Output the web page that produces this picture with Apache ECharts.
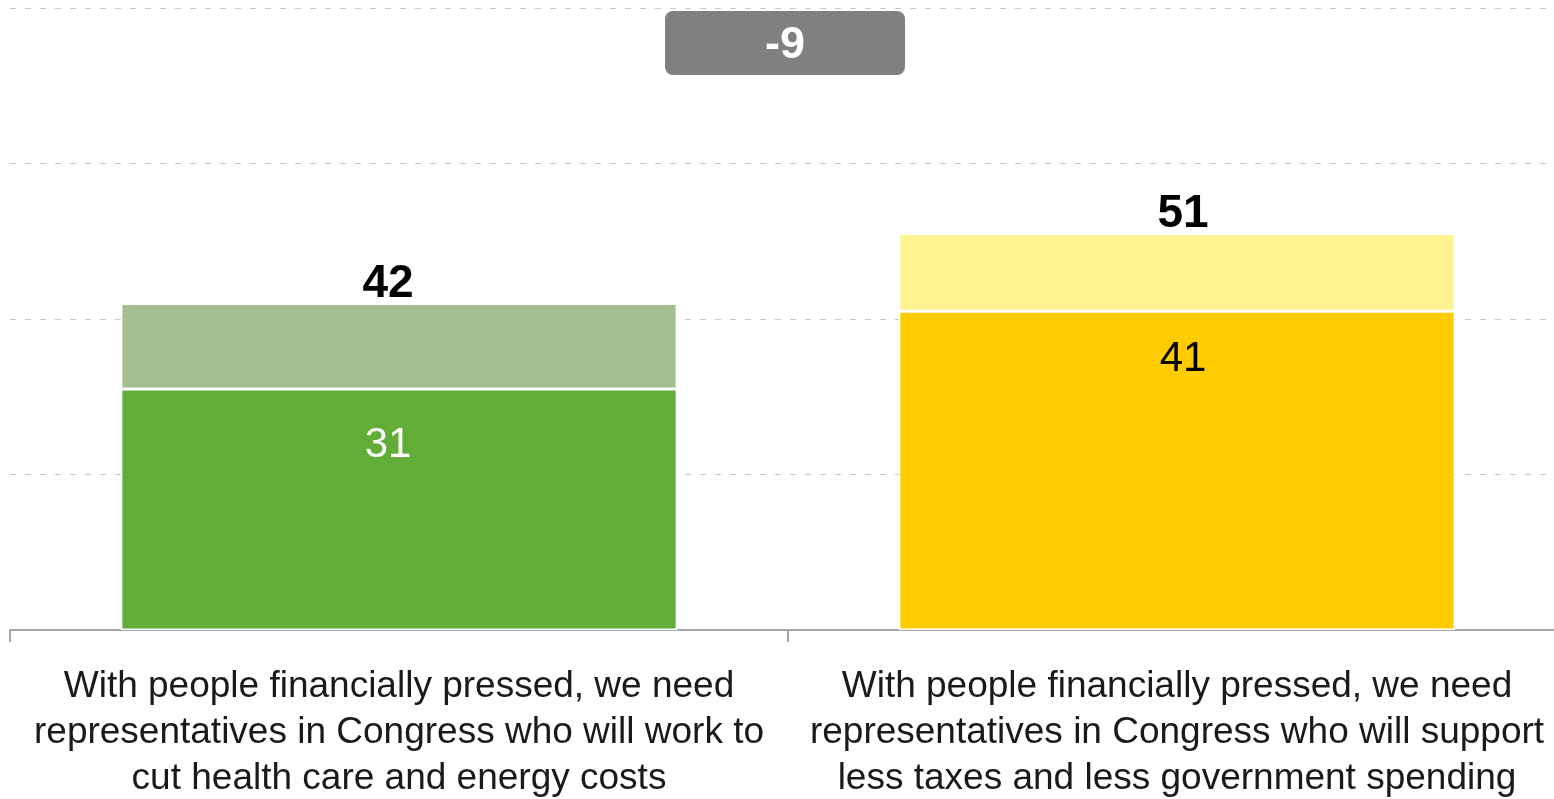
<!DOCTYPE html>
<html>
<head>
<meta charset="utf-8">
<script src="https://cdn.jsdelivr.net/npm/echarts@6/dist/echarts.min.js"></script>
<style>
  html, body { margin: 0; padding: 0; background: #fff; }
  #main { width: 1554px; height: 799px; }
</style>
</head>
<body>
<div id="main"></div>
<script>
// data
var categories = [
  'With people financially pressed, we need\nrepresentatives in Congress who will work to\ncut health care and energy costs',
  'With people financially pressed, we need\nrepresentatives in Congress who will support\nless taxes and less government spending'
]
var strongValues = [31, 41]
var totalValues = [42, 51]
var strongColors = ['#62AD38', '#FFCC00']
var restColors = ['#A3BF90', '#FFF48F']

var restValues = totalValues.map(function (t, i) { return t - strongValues[i] })
var gap = totalValues[0] - totalValues[1]
// labels in the original sit a little off the bar centre
var labelShift = [-11, 6]

var myChart = echarts.init(document.getElementById('main'))

myChart.setOption({
  animation: false,
  grid: { left: 10, right: -12, top: 8, bottom: 169, outerBoundsMode: 'none', containLabel: false },
  xAxis: {
    type: 'category',
    data: categories,
    axisLine: { lineStyle: { color: '#A6A6A6', width: 2 } },
    axisTick: { show: true, length: 12, lineStyle: { color: '#A6A6A6', width: 2 } },
    axisLabel: {
      interval: 0,
      margin: 34,
      fontFamily: 'Liberation Sans',
      fontSize: 37,
      lineHeight: 46,
      color: '#1a1a1a'
    }
  },
  yAxis: {
    type: 'value',
    min: 0,
    max: 80,
    interval: 20,
    axisLabel: { show: false },
    axisLine: { show: false },
    axisTick: { show: false },
    splitLine: { lineStyle: { color: '#C8C8C8', type: [6, 9], width: 1 } }
  },
  series: [
    {
      type: 'bar',
      stack: 'a',
      barCategoryGap: '28.5%',
      data: strongValues.map(function (v, i) {
        return {
          value: v,
          itemStyle: { color: strongColors[i] },
          label: {
            color: i === 0 ? '#fff' : '#000',
            distance: i === 0 ? 35 : 27,
            offset: [labelShift[i], 0]
          }
        }
      }),
      itemStyle: { borderColor: '#fff', borderWidth: 1.5 },
      label: {
        show: true,
        position: 'insideTop',
        fontFamily: 'Liberation Sans',
        fontSize: 42
      }
    },
    {
      type: 'bar',
      stack: 'a',
      data: restValues.map(function (v, i) {
        return {
          value: v,
          itemStyle: { color: restColors[i] },
          label: { offset: [labelShift[i], 0] }
        }
      }),
      itemStyle: { borderColor: '#fff', borderWidth: 1.5 },
      label: {
        show: true,
        position: 'top',
        distance: -4,
        fontFamily: 'Liberation Sans',
        fontSize: 46,
        fontWeight: 'bold',
        color: '#000',
        formatter: function (p) { return totalValues[p.dataIndex] }
      }
    }
  ],
  graphic: [
    {
      type: 'group',
      left: 665,
      top: 11,
      children: [
        {
          type: 'rect',
          shape: { x: 0, y: 0, width: 240, height: 64, r: 8 },
          style: { fill: '#808080' }
        },
        {
          type: 'text',
          x: 120,
          y: 35,
          style: {
            text: String(gap),
            fill: '#fff',
            font: 'bold 45px "Liberation Sans"',
            align: 'center',
            verticalAlign: 'middle'
          }
        }
      ]
    }
  ]
})
</script>
</body>
</html>
